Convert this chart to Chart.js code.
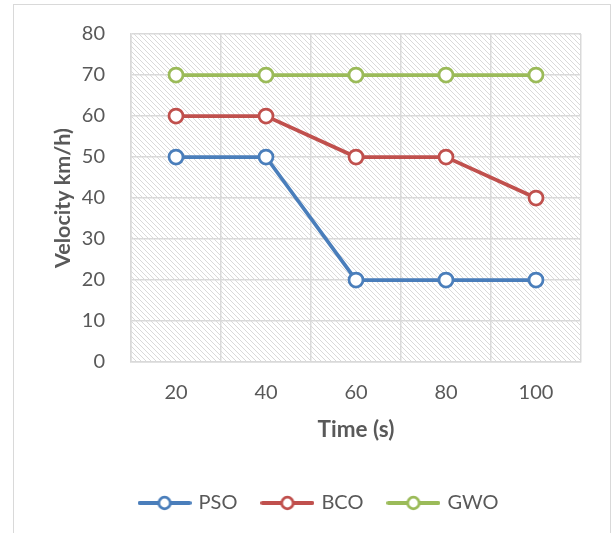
<!DOCTYPE html>
<html lang="en">
<head>
    <meta charset="UTF-8">
    <title>Velocity vs Time</title>
    <script src="https://cdn.jsdelivr.net/npm/chart.js"></script>
    <style>
        body {
            margin: 0;
            padding: 0;
            background-color: #ffffff;
            overflow: hidden;
        }

        .frame {
            position: absolute;
            left: 13px;
            top: 4px;
            width: 596px;
            height: 560px;
            border: 1px solid #d9d9d9;
        }

        .wrap {
            position: absolute;
            left: 0;
            top: 0;
            width: 613px;
            height: 533px;
        }
    </style>
</head>
<body>
    <div class="frame"></div>
    <div class="wrap">
        <canvas id="velocityChart" width="613" height="533"></canvas>
    </div>

    <script>
        const timeLabels = ['20', '40', '60', '80', '100'];
        const psoValues = [50, 50, 20, 20, 20];
        const bcoValues = [60, 60, 50, 50, 40];
        const gwoValues = [70, 70, 70, 70, 70];

        const seriesNames = ['PSO', 'BCO', 'GWO'];
        const seriesColors = ['#4a7ebb', '#c0504d', '#9bbb59'];

        // diagonal hatch used behind the plot area
        function makeHatch() {
            const tile = document.createElement('canvas');
            tile.width = 5;
            tile.height = 5;
            const c = tile.getContext('2d');
            c.fillStyle = '#ffffff';
            c.fillRect(0, 0, 5, 5);
            c.fillStyle = '#d9d9d9';
            for (let i = 0; i < 5; i++) {
                c.fillRect(i, i, 1, 1);
            }
            return c.createPattern(tile, 'repeat');
        }

        // little line + hollow circle icon for the legend
        function makeLegendIcon(color) {
            const icon = document.createElement('canvas');
            icon.width = 54;
            icon.height = 18;
            const c = icon.getContext('2d');
            c.strokeStyle = color;
            c.lineCap = 'round';
            c.lineWidth = 4;
            c.beginPath();
            c.moveTo(2, 9);
            c.lineTo(52, 9);
            c.stroke();
            c.fillStyle = '#ffffff';
            c.lineWidth = 2.75;
            c.beginPath();
            c.arc(27, 9, 5.75, 0, Math.PI * 2);
            c.fill();
            c.stroke();
            return icon;
        }

        const hatchBackground = {
            id: 'hatchBackground',
            beforeDraw(chart) {
                const area = chart.chartArea;
                const ctx = chart.ctx;
                ctx.save();
                ctx.fillStyle = makeHatch();
                ctx.fillRect(area.left, area.top, area.right - area.left, area.bottom - area.top);
                ctx.restore();
            }
        };

        // legend sits centred on the outer frame, not on the canvas
        const legendShift = {
            id: 'legendShift',
            afterLayout(chart) {
                if (chart.legend) {
                    chart.legend.left += 29;
                    chart.legend.right += 29;
                }
            }
        };

        const seriesValues = [psoValues, bcoValues, gwoValues];
        const legendIcons = seriesColors.map(makeLegendIcon);

        const datasets = seriesNames.map((name, i) => ({
            label: name,
            data: seriesValues[i],
            borderColor: seriesColors[i],
            backgroundColor: '#ffffff',
            borderWidth: 3.75,
            pointRadius: 7,
            pointBorderWidth: 2.75,
            pointBackgroundColor: '#ffffff',
            pointBorderColor: seriesColors[i],
            tension: 0,
            fill: false
        }));

        new Chart(document.getElementById('velocityChart').getContext('2d'), {
            type: 'line',
            data: {
                labels: timeLabels,
                datasets: datasets
            },
            options: {
                responsive: false,
                animation: false,
                layout: {
                    padding: { left: 0, right: 32, top: 26, bottom: 10 }
                },
                plugins: {
                    tooltip: { enabled: false },
                    legend: {
                        position: 'bottom',
                        labels: {
                            usePointStyle: true,
                            pointStyleWidth: 48,
                            padding: 26,
                            color: '#595959',
                            font: { family: 'Lato', size: 20 },
                            generateLabels: (chart) => chart.data.datasets.map((ds, i) => ({
                                text: ds.label,
                                pointStyle: legendIcons[i],
                                fillStyle: '#ffffff',
                                strokeStyle: seriesColors[i],
                                fontColor: '#595959',
                                lineWidth: 0,
                                datasetIndex: i
                            }))
                        }
                    }
                },
                scales: {
                    x: {
                        offset: true,
                        grid: {
                            offset: true,
                            color: '#d9d9d9',
                            lineWidth: 1.5,
                            drawTicks: false
                        },
                        border: { color: '#d9d9d9', width: 1.5 },
                        ticks: {
                            color: '#595959',
                            font: { family: 'Lato', size: 20 },
                            padding: 19
                        },
                        title: {
                            display: true,
                            text: 'Time (s)',
                            color: '#595959',
                            font: { family: 'Lato', size: 22.5, weight: 'bold' },
                            padding: { top: 0, bottom: 23.5 }
                        },
                        afterFit: (scale) => { scale.height = 105; }
                    },
                    y: {
                        min: 0,
                        max: 80,
                        grid: {
                            color: '#d9d9d9',
                            lineWidth: 1.5,
                            drawTicks: false
                        },
                        border: { color: '#d9d9d9', width: 1.5 },
                        ticks: {
                            stepSize: 10,
                            color: '#595959',
                            // small lineHeight keeps the tick padding from pushing the plot down
                            font: { family: 'Lato', size: 20, lineHeight: 0.8 },
                            padding: 26
                        },
                        title: {
                            display: true,
                            text: 'Velocity km/h)',
                            color: '#595959',
                            font: { family: 'Lato', size: 21.5, weight: 'bold' },
                            padding: { top: 50, bottom: 0 }
                        },
                        afterFit: (scale) => { scale.width = 131; }
                    }
                }
            },
            plugins: [hatchBackground, legendShift]
        });
    </script>
</body>
</html>
